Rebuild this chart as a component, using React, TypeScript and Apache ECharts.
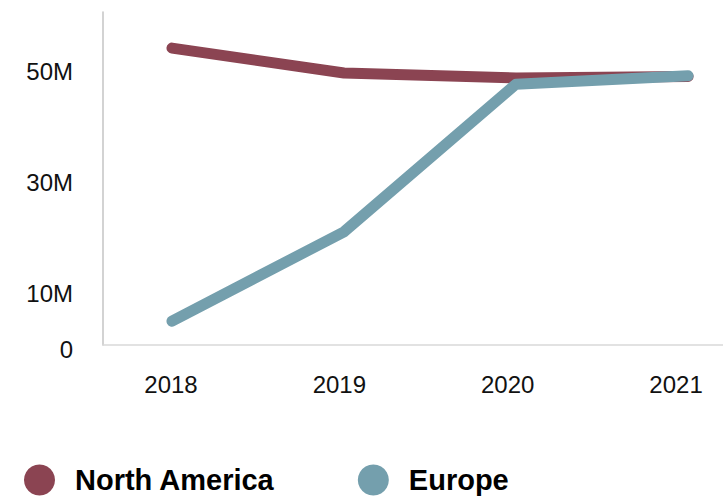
import React, { useEffect, useRef } from "react";
import * as echarts from "echarts";

const years = [2018, 2019, 2020, 2021];
const northAmerica = [53.5, 49.0, 48.1, 48.4];
const europe = [4.3, 20.4, 47.0, 48.5];
const yTickValues = [0, 10, 30, 50];
const yTickLabels = ["0", "10M", "30M", "50M"];
const seriesNames = ["North America", "Europe"];
const seriesColors = ["#8B4452", "#749FAD"];

export default function App() {
  const ref = useRef<HTMLDivElement>(null);
  useEffect(() => {
    if (!ref.current) return;
    const chart = echarts.init(ref.current, undefined, { renderer: "svg" });
    const font = "Liberation Sans, Arial, sans-serif";
    const mk = (name: string, vals: number[], color: string) => ({
      name,
      type: "line",
      xAxisIndex: 0,
      data: years.map((y, i) => [y, vals[i]]),
      showSymbol: false,
      symbol: "circle",
      color,
      lineStyle: { width: 11, color, cap: "round", join: "round" },
    });
    chart.setOption({
      animation: false,
      backgroundColor: "#fff",
      grid: { left: 103, right: 0, top: 12, bottom: 152, containLabel: false },
      legend: {
        left: 24,
        top: 464.5,
        padding: 0,
        icon: "circle",
        itemWidth: 31,
        itemHeight: 31,
        itemGap: 83,
        data: seriesNames,
        textStyle: {
          fontSize: 29,
          lineHeight: 31,
          fontWeight: "bold",
          color: "#000",
          fontFamily: font,
          padding: [0, 0, 0, 15],
        },
      },
      xAxis: [
        {
          type: "value",
          min: 2017.599,
          max: 2021.203,
          axisLine: { show: true, lineStyle: { color: "#d9d9d9", width: 1.5 } },
          axisTick: { show: false },
          axisLabel: { show: false },
          splitLine: { show: false },
        },
        {
          type: "value",
          min: 2017.596,
          max: 2021.279,
          position: "bottom",
          axisLine: { show: false },
          axisTick: { show: false },
          splitLine: { show: false },
          axisLabel: {
            show: true,
            customValues: years,
            formatter: (v: number) => String(Math.round(v)),
            fontSize: 24,
            color: "#111",
            fontFamily: font,
            margin: 27,
          },
        },
      ],
      yAxis: {
        type: "value",
        min: 0,
        max: 60,
        interval: 10,
        axisLine: { show: true, lineStyle: { color: "#c4c4c4", width: 1.5 } },
        axisTick: { show: false },
        splitLine: { show: false },
        axisLabel: {
          fontSize: 24,
          color: "#111",
          fontFamily: font,
          margin: 30,
          verticalAlign: "top",
          lineHeight: 8,
          formatter: (v: number) => {
            const i = yTickValues.indexOf(v);
            return i >= 0 ? yTickLabels[i] : "";
          },
        },
      },
      series: [
        mk(seriesNames[0], northAmerica, seriesColors[0]),
        mk(seriesNames[1], europe, seriesColors[1]),
      ],
    });
    return () => chart.dispose();
  }, []);
  return <div ref={ref} style={{ width: 723, height: 497, position: "absolute", left: 0, top: 0 }} />;
}
